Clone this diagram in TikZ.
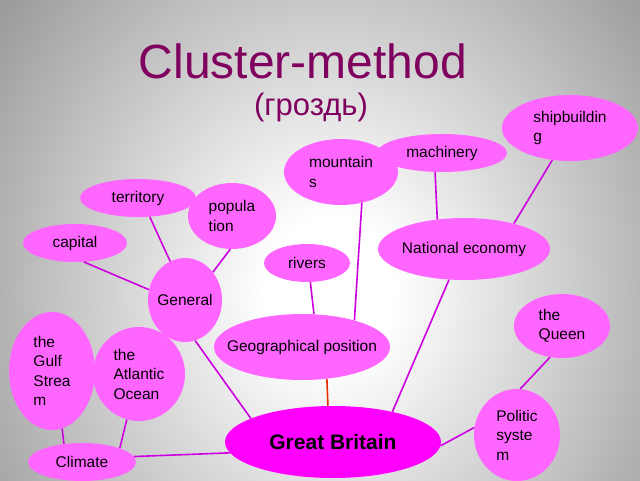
\documentclass[tikz,border=0pt]{standalone}
\usepackage{fontspec}
\setmainfont{Liberation Sans}
\usetikzlibrary{shapes.geometric}

\definecolor{bubblefill}{RGB}{255,102,255}
\definecolor{corefill}{RGB}{255,0,255}
\definecolor{linkcol}{RGB}{205,0,225}
\definecolor{titlecol}{RGB}{128,0,96}
\definecolor{bgedge}{RGB}{145,145,145}
\pgfdeclareradialshading{bgglow}{\pgfpoint{0bp}{0bp}}{color(0bp)=(white); color(4bp)=(white); color(28bp)=(bgedge); color(50bp)=(bgedge)}

\begin{document}
\begin{tikzpicture}[x=1pt,y=-1pt]
        % Styles
        \tikzstyle{bubble} = [ellipse, fill=bubblefill, inner xsep=-30pt, inner ysep=-8pt,
        align=left, font=\fontsize{15.5}{19.5}\selectfont]
        \tikzstyle{core} = [bubble, fill=corefill, font=\fontsize{21}{24}\selectfont\bfseries]
        \tikzstyle{link} = [draw=linkcol, line width=1.6pt]

        % Background
        \useasboundingbox (0,0) rectangle (640,480);
        \begin{scope}
            \clip (0,0) rectangle (640,480);
            \shade[shading=bgglow] (-70,-160) rectangle (730,740);
        \end{scope}

        % Title
        \node (title)   [text=titlecol, font=\fontsize{48}{48}\selectfont] at (303,61) {Cluster-method};
        \node (subtitle)[text=titlecol, font=\fontsize{31}{31}\selectfont] at (311,107) {(гроздь)};

        % Nodes
        \node (mount)   [bubble, minimum width=114pt, minimum height=66pt] at (341,172) {mountain\\s};
        \node (mach)    [bubble, minimum width=130pt, minimum height=38pt] at (442,153) {machinery};
        \node (ship)    [bubble, minimum width=136pt, minimum height=66pt] at (570,128) {shipbuildin\\g};
        \node (terr)    [bubble, minimum width=116pt, minimum height=38pt] at (138,198) {territory};
        \node (popul)   [bubble, minimum width=88pt,  minimum height=66pt] at (232,216) {popula\\tion};
        \node (capital) [bubble, minimum width=104pt, minimum height=38pt] at (75,243)  {capital};
        \node (rivers)  [bubble, minimum width=86pt,  minimum height=38pt] at (307,263) {rivers};
        \node (econ)    [bubble, minimum width=172pt, minimum height=62pt] at (464,249) {National economy};
        \node (general) [bubble, minimum width=74pt,  minimum height=84pt] at (185,300) {General};
        \node (geo)     [bubble, minimum width=176pt, minimum height=66pt] at (302,347) {Geographical position};
        \node (queen)   [bubble, minimum width=96pt,  minimum height=64pt] at (562,326) {the\\Queen};
        \node (gulf)    [bubble, minimum width=86pt,  minimum height=118pt] at (52,371) {the\\Gulf\\Strea\\m};
        \node (atlant)  [bubble, minimum width=92pt,  minimum height=94pt] at (139,374) {the\\Atlantic\\Ocean};
        \node (gb)      [core,   minimum width=216pt, minimum height=72pt] at (333,442) {Great Britain};
        \node (politic) [bubble, minimum width=86pt,  minimum height=92pt] at (517,435) {Politic\\syste\\m};
        \node (climate) [bubble, minimum width=108pt, minimum height=38pt] at (82,462)  {Climate};

        % Edges
        \draw[link] (capital.-65)  -- (general.164);
        \draw[link] (terr.-58)     -- (general.111);
        \draw[link] (popul.-93)    -- (general.45);
        \draw[link] (general.-76)  -- (gb.164);
        \draw[link] (rivers.-80)   -- (geo.70);
        \draw[link] (mount.-56)    -- (geo.27);
        \draw[draw={rgb,255:red,230;green,45;blue,0}, line width=1.6pt] (geo.-52) -- (gb.98);
        \draw[link] (mach.-110)    -- (econ.132);
        \draw[link] (ship.-119)    -- (econ.27);
        \draw[link] (econ.-116)    -- (gb.27);
        \draw[link] (queen.-111)   -- (politic.86);
        \draw[link] (gb.-2)        -- (politic.170);
        \draw[link] (climate.6)    -- (gb.-174);
        \draw[link] (gulf.-80)     -- (climate.135);
        \draw[link] (atlant.-105)  -- (climate.20);

    \end{tikzpicture}
\end{document}
